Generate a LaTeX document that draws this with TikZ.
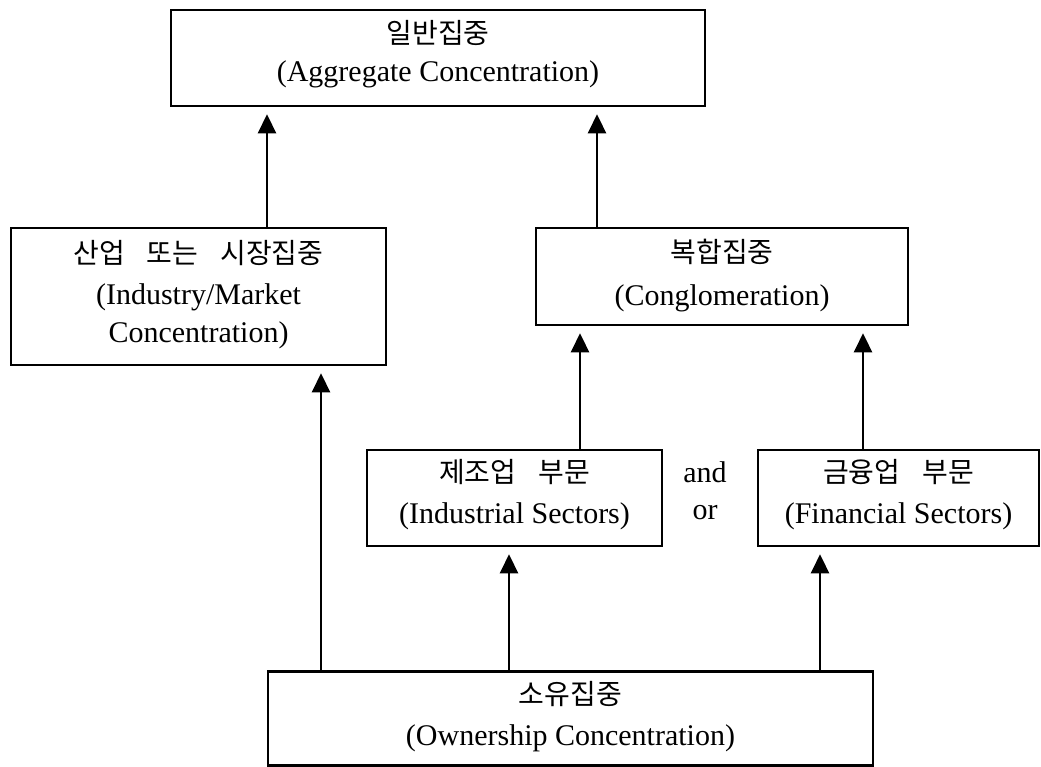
\documentclass[tikz,border=0pt]{standalone}
\usepackage{fontspec}
\setmainfont{Liberation Serif}
\newfontfamily\kr{Noto Sans CJK KR}
\usetikzlibrary{arrows.meta}
\newcommand\ksp{\hspace{0.78em}}
\tikzset{
  box/.style={draw, line width=2.6pt, inner sep=0pt, minimum width=#1},
  en/.style={font=\fontsize{30}{34}\selectfont, inner sep=0pt},
  ko/.style={font=\kr\fontsize{28}{32}\selectfont, inner sep=0pt},
  arr/.style={line width=2.6pt, -{Triangle[width=18pt,length=19pt]}, shorten >=7pt}
}
\begin{document}
\begin{tikzpicture}[x=1pt,y=-1pt]
\useasboundingbox (0,0) rectangle (1041,767);
% boxes
\node[box=534pt, minimum height=96pt] (top) at (438,58) {};
\node[box=375pt, minimum height=137pt] (lft) at (198.5,296.5) {};
\node[box=372pt, minimum height=97pt] (mid) at (722,276.5) {};
\node[box=295pt, minimum height=96pt] (ind) at (514.5,498) {};
\node[box=281pt, minimum height=96pt] (fin) at (898.5,498) {};
\node[box=605pt, minimum height=94pt] (bot) at (570.5,718.5) {};
% texts
\node[ko] (topk) at (438,33) {일반집중};
\node[en] (tope) at (438,74) {(Aggregate Concentration)};
\node[ko] (lftk) at (198.5,253) {산업\ksp 또는\ksp 시장집중};
\node[en] (lfte1) at (198.5,297) {(Industry/Market};
\node[en] (lfte2) at (198.5,335) {Concentration)};
\node[ko] (midk) at (722,252) {복합집중};
\node[en] (mide) at (722,298) {(Conglomeration)};
\node[ko] (indk) at (514.5,472) {제조업\ksp 부문};
\node[en] (inde) at (514.5,516) {(Industrial Sectors)};
\node[ko] (fink) at (898.5,472) {금융업\ksp 부문};
\node[en] (fine) at (898.5,516) {(Financial Sectors)};
\node[en] (andt) at (705,472) {and};
\node[en] (ort) at (705,513) {or};
\node[ko] (botk) at (570.5,694) {소유집중};
\node[en] (bote) at (570.5,738) {(Ownership Concentration)};
% arrow columns
\coordinate (c1) at (267,0);
\coordinate (c2) at (597,0);
\coordinate (c3) at (321,0);
\coordinate (c4) at (580,0);
\coordinate (c5) at (863,0);
\coordinate (c6) at (509,0);
\coordinate (c7) at (820,0);
% arrows
\draw[arr] (lft.north -| c1) -- (top.south -| c1);
\draw[arr] (mid.north -| c2) -- (top.south -| c2);
\draw[arr] (bot.north -| c3) -- (lft.south -| c3);
\draw[arr] (ind.north -| c4) -- (mid.south -| c4);
\draw[arr] (fin.north -| c5) -- (mid.south -| c5);
\draw[arr] (bot.north -| c6) -- (ind.south -| c6);
\draw[arr] (bot.north -| c7) -- (fin.south -| c7);
\end{tikzpicture}
\end{document}
